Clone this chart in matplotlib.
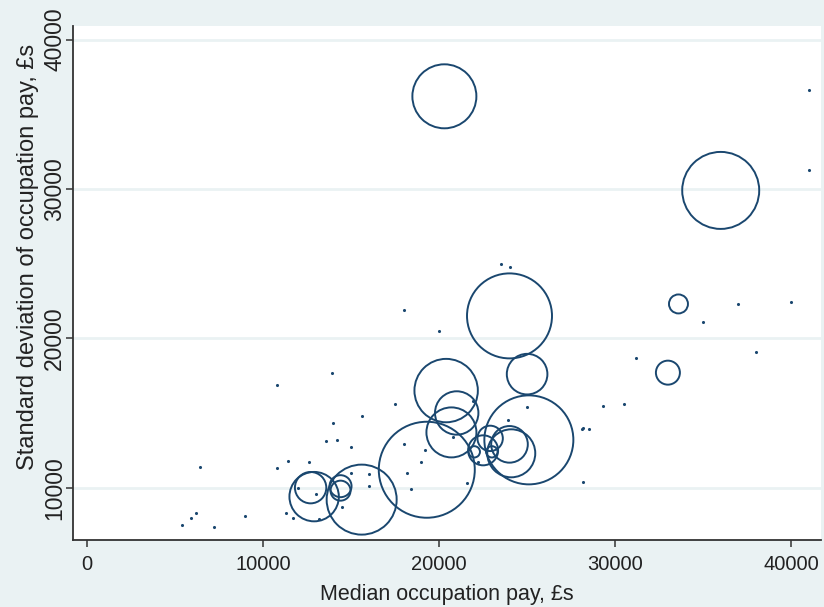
import numpy as np
import matplotlib
matplotlib.use('Agg')
import matplotlib.pyplot as plt

# occupations drawn as weighted bubbles (median pay, sd of pay, weight)
big_median = [20300, 36000, 33600, 33000, 24000, 25000, 20400, 21000, 20700,
              25100, 22900, 24000, 24100, 22500, 22000, 23000, 19300, 15600,
              12700, 12900, 14400, 14400]
big_sd = [36200, 29900, 22300, 17700, 21500, 17600, 16500, 15000, 13700,
          13200, 13300, 12900, 12300, 12500, 12400, 12400, 11200, 9200,
          10000, 9400, 10100, 9800]
big_weight = [1024, 1482, 90, 144, 1806, 412, 1005, 471, 625,
              1980, 161, 335, 576, 225, 32, 32, 2304, 1225,
              246, 610, 121, 100]

# small occupations (appear as dots)
small_median = [5400, 5900, 6200, 6400, 7200, 9000, 10800, 10800, 11400, 11300,
                11700, 12600, 12000, 13000, 13200, 13600, 13900, 14000, 14200,
                15000, 14500, 15000, 15600, 16000, 16000, 17500, 18000, 20000,
                18000, 19200, 19000, 18200, 18400, 20800, 21600, 21900, 22200,
                23500, 24000, 23900, 25000, 28100, 28200, 28500, 28200, 29300,
                30500, 31200, 35000, 37000, 38000, 40000, 41000, 41000]
small_sd = [7500, 8000, 8300, 11400, 7400, 8100, 16900, 11300, 11800, 8300,
            8000, 11700, 10000, 9600, 7900, 13100, 17700, 14300, 13200,
            12700, 8700, 11000, 14800, 10900, 10100, 15600, 21900, 20500,
            12900, 12500, 11700, 11000, 9900, 13400, 10300, 15800, 11700,
            25000, 24800, 14500, 15400, 13900, 14000, 13900, 10400, 15500,
            15600, 18700, 21100, 22300, 19100, 22400, 36600, 31300]

x_ticks = [0, 10000, 20000, 30000, 40000]
y_ticks = [10000, 20000, 30000, 40000]

NAVY = '#1a476f'
BG = '#eaf2f3'
AXIS = '#333333'
TXT = '#222222'

plt.rcParams['font.family'] = ['Liberation Sans', 'DejaVu Sans']

fig = plt.figure(figsize=(8.24, 6.07), dpi=100, facecolor=BG)
ax = fig.add_axes([0.0886, 0.1112, 0.9078, 0.8453])
ax.set_facecolor('white')

# marker area proportional to weight
px_to_pt = 72.0 / fig.dpi
sizes = [w * (2 * px_to_pt) ** 2 for w in big_weight]
ax.scatter(big_median, big_sd, s=sizes, facecolors='none', edgecolors=NAVY,
           linewidths=1.4, zorder=3)
ax.scatter(small_median, small_sd, s=5, color=NAVY, linewidths=0, zorder=3)

ax.set_xlim(-800, 41700)
ax.set_ylim(6530, 40880)
ax.set_xticks(x_ticks)
ax.set_yticks(y_ticks)
ax.set_yticklabels([str(v) for v in y_ticks], rotation=90, va='center')

ax.yaxis.grid(True, color=BG, linewidth=2)
ax.set_axisbelow(True)

for side in ['top', 'right']:
    ax.spines[side].set_visible(False)
for side in ['left', 'bottom']:
    ax.spines[side].set_color(AXIS)
    ax.spines[side].set_linewidth(1.3)

ax.tick_params(axis='both', direction='out', length=5, width=1.1, color=AXIS)
ax.tick_params(axis='x', labelsize=14.5, labelcolor=TXT, pad=6.5)
ax.tick_params(axis='y', labelsize=16.5, labelcolor=TXT, pad=0)

ax.set_xlabel('Median occupation pay, £s', fontsize=15.5, color=TXT,
              labelpad=7)
ax.set_ylabel('Standard deviation of occupation pay, £s', fontsize=17,
              color=TXT)
ax.yaxis.set_label_coords(-0.046, 0.55)

plt.savefig('out.png', dpi=100, facecolor=BG)
